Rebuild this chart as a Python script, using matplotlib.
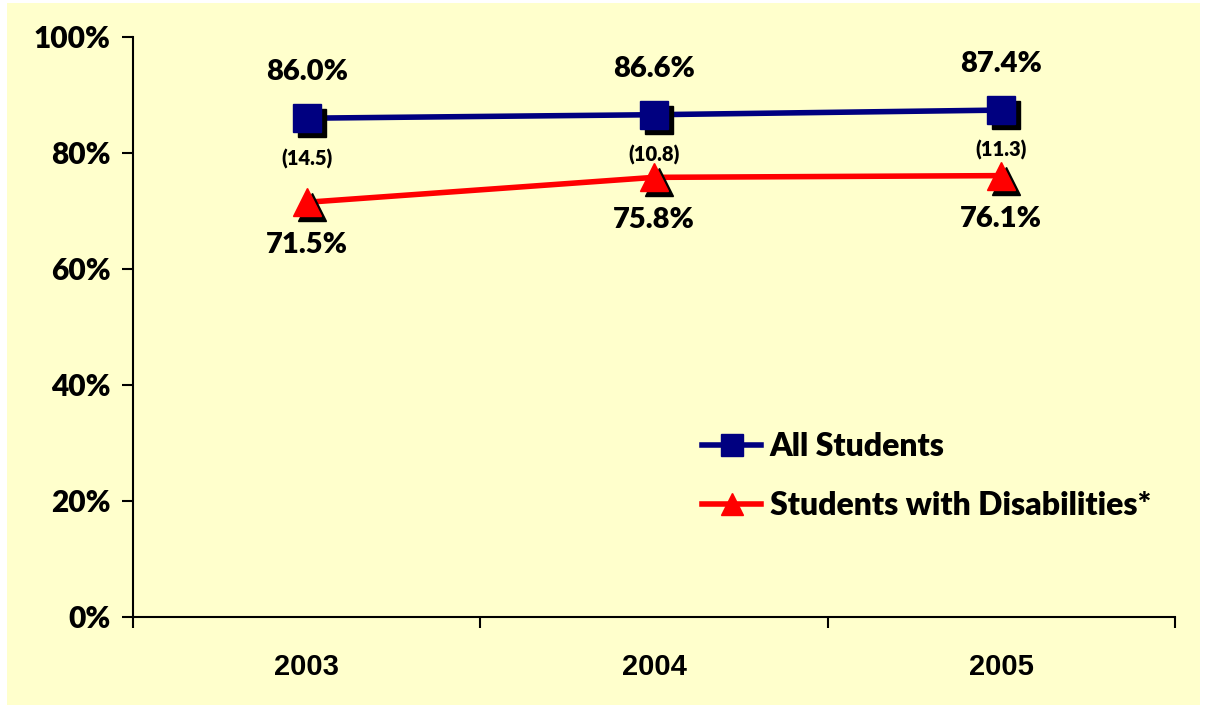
import matplotlib
matplotlib.use('Agg')
import matplotlib.pyplot as plt
import matplotlib.transforms as mtransforms
from matplotlib.patches import Rectangle
from matplotlib.ticker import FuncFormatter

plt.rcParams['font.family'] = ['Lato', 'DejaVu Sans']
W = 'heavy'

# data
years = ['2003', '2004', '2005']
all_students = [86.0, 86.6, 87.4]
swd = [71.5, 75.8, 76.1]
gaps = ['(14.5)', '(10.8)', '(11.3)']

navy = '#000080'
red = '#FF0000'
bg = '#FFFFCC'

fig = plt.figure(figsize=(12.1, 7.15), dpi=100, facecolor='white')
ax = fig.add_axes([133 / 1210, 1 - 617 / 715, (1175 - 133) / 1210, (617 - 37) / 715])
ax.set_facecolor('none')
# yellow chart area behind everything
ax.add_artist(Rectangle((7 / 1210, 10 / 715), 1193 / 1210, 702 / 715,
                        transform=fig.transFigure, facecolor=bg,
                        edgecolor='none', zorder=-10, clip_on=False))

x = [i + 0.5 for i in range(len(years))]

shadow = mtransforms.offset_copy(ax.transData, fig=fig, x=5, y=-5, units='dots')

# lines
ax.plot(x, all_students, color=navy, lw=4, zorder=3, solid_capstyle='butt')
ax.plot(x, swd, color=red, lw=4, zorder=3, solid_capstyle='butt')
# marker shadows
ax.plot(x, all_students, ls='none', marker='s', ms=20, color='black',
        transform=shadow, zorder=4)
ax.plot(x, swd, ls='none', marker='^', ms=20, color='black',
        transform=shadow, zorder=4)
# markers
ax.plot(x, all_students, ls='none', marker='s', ms=20, color=navy, zorder=5)
ax.plot(x, swd, ls='none', marker='^', ms=20, color=red, zorder=5)

# legend proxies
ax.plot([], [], color=navy, lw=4, marker='s', ms=16, label='All Students')
ax.plot([], [], color=red, lw=4, marker='^', ms=16, label='Students with Disabilities*')

for xi, a, s, g in zip(x, all_students, swd, gaps):
    ax.annotate(f'{a:.1f}%', (xi, a), xytext=(0, 33), textcoords='offset points',
                ha='center', va='center', fontsize=21, fontweight=W)
    ax.annotate(g, (xi, a), xytext=(0, -29), textcoords='offset points',
                ha='center', va='center', fontsize=14.5, fontweight=W)
    ax.annotate(f'{s:.1f}%', (xi, s), xytext=(0, -31), textcoords='offset points',
                ha='center', va='center', fontsize=21, fontweight=W)

ax.set_xlim(0, 3)
ax.set_ylim(0, 100)
ax.set_yticks(range(0, 101, 20))
ax.yaxis.set_major_formatter(FuncFormatter(lambda v, p: f'{v:.0f}%'))
ax.set_xticks([0, 1, 2, 3])
ax.set_xticklabels([])
ax.set_xticks(x, minor=True)
ax.set_xticklabels(years, minor=True, fontsize=21, fontweight='bold',
                   family='Liberation Sans')
ax.tick_params(axis='x', which='minor', length=0, pad=26)
ax.tick_params(axis='x', which='major', length=8, width=1.5, direction='out')
ax.tick_params(axis='y', length=8, width=1.5, direction='out', pad=8,
               labelsize=21.5)
for lbl in ax.get_yticklabels():
    lbl.set_fontweight(W)

for side in ['top', 'right']:
    ax.spines[side].set_visible(False)
for side in ['left', 'bottom']:
    ax.spines[side].set_linewidth(1.5)

leg = ax.legend(loc='upper left', bbox_to_anchor=(686 / 1210, 1 - 416 / 715),
                bbox_transform=fig.transFigure, frameon=False,
                prop={'size': 23, 'weight': W}, handlelength=1.85,
                handletextpad=0.27, labelspacing=0.95, borderpad=0)

fig.savefig('out.png', dpi=100, facecolor='white')
